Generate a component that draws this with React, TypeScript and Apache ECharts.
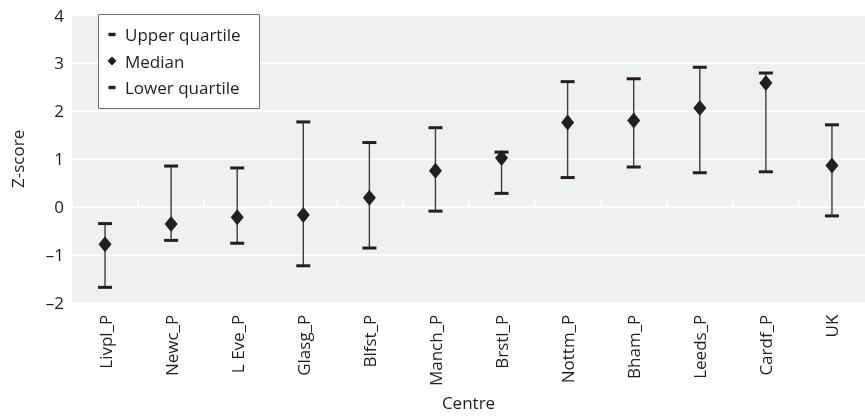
import React, { useEffect, useRef } from "react";
import * as echarts from "echarts";

const centres = [
  "Livpl_P", "Newc_P", "L Eve_P", "Glasg_P", "Blfst_P", "Manch_P",
  "Brstl_P", "Nottm_P", "Bham_P", "Leeds_P", "Cardf_P", "UK",
];
const upperQuartile = [-0.35, 0.85, 0.81, 1.77, 1.34, 1.65, 1.14, 2.61, 2.67, 2.91, 2.79, 1.71];
const median = [-0.78, -0.36, -0.22, -0.17, 0.19, 0.75, 1.02, 1.76, 1.8, 2.06, 2.58, 0.86];
const lowerQuartile = [-1.68, -0.7, -0.76, -1.23, -0.86, -0.09, 0.28, 0.61, 0.83, 0.71, 0.73, -0.19];
const yTicks = { min: -2, max: 4, interval: 1 };

const INK = "#231f20";
const FONT = "'Open Sans', 'Noto Sans', sans-serif";
const FS = 17;

// Legend icons share a 10x10 box (the leading moves fix the bounds)
const DASH_ICON = "path://M0,0M10,10M1.5,3.3H8.5V6.7H1.5Z";
const DIAMOND_ICON = "path://M0,0M10,10M5,0.5L9.5,5L5,9.5L0.5,5Z";

export default function App() {
  const ref = useRef<HTMLDivElement>(null);

  useEffect(() => {
    if (!ref.current) return;
    const chart = echarts.init(ref.current, undefined, { renderer: "svg" });

    const whiskers = centres.map((_, i) => [i, lowerQuartile[i], upperQuartile[i]]);

    chart.setOption({
      animation: false,
      textStyle: { fontFamily: FONT },
      grid: {
        left: 72,
        top: 15,
        width: 800,
        height: 293,
        show: true,
        backgroundColor: "#eff0f2",
        borderWidth: 0,
      },
      legend: {
        orient: "vertical",
        left: 107,
        top: 26,
        padding: 0,
        itemWidth: 10,
        itemHeight: 10,
        itemGap: 9.5,
        selectedMode: false,
        textStyle: {
          fontSize: FS,
          color: INK,
          fontFamily: FONT,
          lineHeight: 17,
          padding: [0, 0, 0, 3],
        },
        data: [
          { name: "Upper quartile", icon: DASH_ICON },
          { name: "Median", icon: DIAMOND_ICON },
          { name: "Lower quartile", icon: DASH_ICON },
        ],
      },
      graphic: [
        {
          type: "rect",
          z: 3,
          shape: { x: 98.5, y: 14.5, width: 161, height: 94 },
          style: { fill: "#ffffff", stroke: "#6d6e71", lineWidth: 1 },
        },
      ],
      xAxis: {
        type: "category",
        data: centres,
        name: "Centre",
        nameLocation: "middle",
        nameGap: 88,
        nameTextStyle: { fontSize: FS, color: INK, fontFamily: FONT },
        axisLine: { show: false },
        axisTick: { show: true, inside: true, length: 7, lineStyle: { color: "#ffffff", width: 2 } },
        axisLabel: { rotate: 90, interval: 0, margin: 12, fontSize: FS, color: INK, fontFamily: FONT },
        splitLine: { show: false },
      },
      yAxis: {
        type: "value",
        min: yTicks.min,
        max: yTicks.max,
        interval: yTicks.interval,
        name: "Z-score",
        nameLocation: "middle",
        nameGap: 46,
        nameRotate: 90,
        nameTextStyle: { fontSize: FS, color: INK, fontFamily: FONT },
        axisLine: { show: false },
        axisTick: { show: false },
        axisLabel: {
          margin: 8,
          fontSize: FS,
          color: INK,
          fontFamily: FONT,
          formatter: (v: number) => String(v).replace("-", "\u2013"),
        },
        splitLine: { show: true, lineStyle: { color: "#ffffff", width: 2 } },
      },
      series: [
        {
          name: "whiskers",
          type: "custom",
          z: 1,
          data: whiskers,
          encode: { x: 0, y: [1, 2] },
          renderItem: (_params: any, api: any) => {
            const x = api.value(0);
            const lo = api.coord([x, api.value(1)]);
            const hi = api.coord([x, api.value(2)]);
            return {
              type: "line",
              shape: { x1: lo[0], y1: lo[1], x2: hi[0], y2: hi[1] },
              style: { stroke: "#3d3d3d", lineWidth: 1.4 },
            };
          },
        },
        {
          name: "Upper quartile",
          type: "scatter",
          data: upperQuartile,
          symbol: "rect",
          symbolSize: [14, 3],
          itemStyle: { color: INK, opacity: 1 },
        },
        {
          name: "Median",
          type: "scatter",
          data: median,
          symbol: "diamond",
          symbolSize: [13, 16],
          itemStyle: { color: INK, opacity: 1 },
        },
        {
          name: "Lower quartile",
          type: "scatter",
          data: lowerQuartile,
          symbol: "rect",
          symbolSize: [14, 3],
          itemStyle: { color: INK, opacity: 1 },
        },
      ],
    });

    return () => chart.dispose();
  }, []);

  return (
    <div
      ref={ref}
      style={{ position: "fixed", left: 0, top: 0, width: 865, height: 416 }}
    />
  );
}
